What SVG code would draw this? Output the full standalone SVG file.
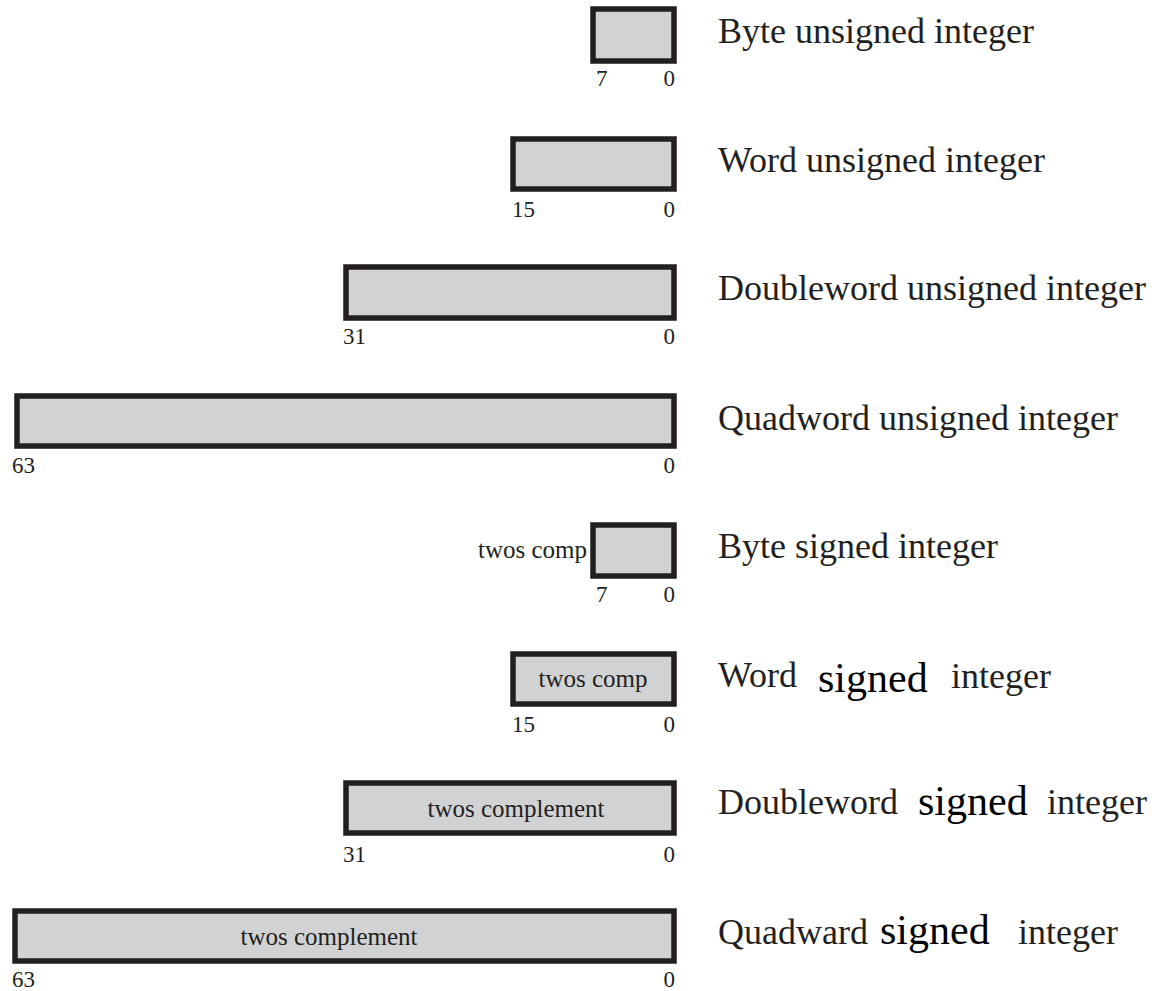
<svg xmlns="http://www.w3.org/2000/svg" width="1154" height="991" viewBox="0 0 1154 991">
<style>
.box{fill:#d1d2d4;stroke:#231f20;stroke-width:5.5}
.num{font-family:"Liberation Serif",serif;font-size:23px;fill:#231f20}
.in{font-family:"Liberation Serif",serif;font-size:25px;fill:#231f20}
.lbl{font-family:"Liberation Serif",serif;font-size:36px;fill:#231f20}
.sg{font-family:"Liberation Serif",serif;font-size:42px;fill:#000}
</style>
<rect width="1154" height="991" fill="#fff"/>
<g id="byte-unsigned">
<rect class="box" x="593" y="9" width="81" height="52"/>
<text class="num" x="596" y="86">7</text><text class="num" x="675" y="86" text-anchor="end">0</text>
<text class="lbl" x="718" y="43">Byte unsigned integer</text>
</g>
<g id="word-unsigned">
<rect class="box" x="513" y="139" width="161" height="50"/>
<text class="num" x="512" y="217">15</text><text class="num" x="675" y="217" text-anchor="end">0</text>
<text class="lbl" x="718" y="172">Word unsigned integer</text>
</g>
<g id="doubleword-unsigned">
<rect class="box" x="346" y="267" width="328" height="51"/>
<text class="num" x="343" y="344">31</text><text class="num" x="675" y="344" text-anchor="end">0</text>
<text class="lbl" x="718" y="300">Doubleword unsigned integer</text>
</g>
<g id="quadword-unsigned">
<rect class="box" x="17" y="396" width="657" height="50"/>
<text class="num" x="12" y="473">63</text><text class="num" x="675" y="473" text-anchor="end">0</text>
<text class="lbl" x="718" y="430">Quadword unsigned integer</text>
</g>
<g id="byte-signed">
<rect class="box" x="593" y="525" width="81" height="51"/>
<text class="in" x="587" y="558" text-anchor="end">twos comp</text>
<text class="num" x="596" y="602">7</text><text class="num" x="675" y="602" text-anchor="end">0</text>
<text class="lbl" x="718" y="558">Byte signed integer</text>
</g>
<g id="word-signed">
<rect class="box" x="513" y="654" width="161" height="50"/>
<text class="in" x="593" y="687" text-anchor="middle">twos comp</text>
<text class="num" x="512" y="732">15</text><text class="num" x="675" y="732" text-anchor="end">0</text>
<text class="lbl" x="718" y="687">Word</text><text class="sg" x="818" y="692">signed</text><text class="lbl" x="951" y="688">integer</text>
</g>
<g id="doubleword-signed">
<rect class="box" x="346" y="783" width="328" height="50"/>
<text class="in" x="516" y="817" text-anchor="middle">twos complement</text>
<text class="num" x="343" y="862">31</text><text class="num" x="675" y="862" text-anchor="end">0</text>
<text class="lbl" x="718" y="814">Doubleword</text><text class="sg" x="918" y="815">signed</text><text class="lbl" x="1047" y="814">integer</text>
</g>
<g id="quadword-signed">
<rect class="box" x="15" y="911" width="659" height="50"/>
<text class="in" x="329" y="945" text-anchor="middle">twos complement</text>
<text class="num" x="12" y="987">63</text><text class="num" x="675" y="987" text-anchor="end">0</text>
<text class="lbl" x="718" y="944">Quadward</text><text class="sg" x="880" y="944">signed</text><text class="lbl" x="1018" y="944">integer</text>
</g>
<g id="connectors"></g>
</svg>
